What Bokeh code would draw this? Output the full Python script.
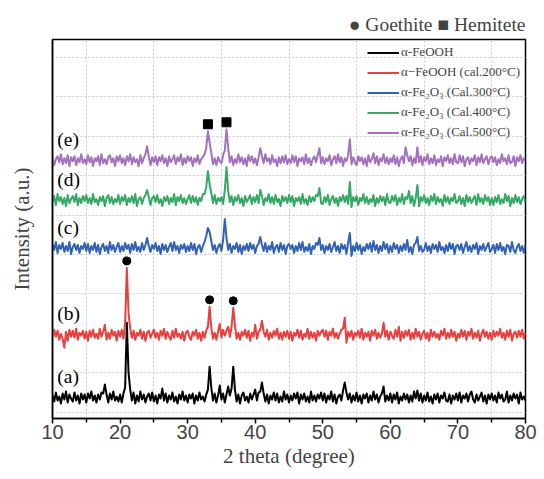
from bokeh.plotting import figure
from bokeh.models import Range1d, FixedTicker
from bokeh.embed import file_html
from bokeh.resources import INLINE
from bokeh.core.properties import value

# 2-theta sampling (degrees)
two_theta = [10 + 0.25 * i for i in range(281)]

# intensities (a.u., relative to each trace's own baseline)
int_a = [
    2,-4,5,-3,1,-6,4,-2,6,-5,3,-1,-4,5,-3,2,-6,4,-2,3,
    -5,4,-1,6,-3,2,-5,3,-2,5,4,13,3,-5,4,-2,6,-3,1,-4,
    3,-5,4,10,75,25,8,-3,5,-6,2,-4,6,-2,3,-5,1,4,-3,5,
    -4,2,-6,3,-1,9,-3,4,-5,2,-2,5,-4,1,-6,3,-2,6,-3,2,
    -5,3,-1,4,-6,2,-3,5,-2,1,-4,3,8,31,10,-3,4,-5,2,12,
    -2,4,-5,3,11,2,9,31,8,-4,3,-6,2,5,-3,1,-5,4,-2,3,
    8,-3,5,6,15,4,-4,3,-6,2,-2,5,-3,4,-5,1,-4,6,-2,3,
    -5,2,-3,4,-1,5,-6,3,-2,4,-4,1,-5,6,-3,2,-4,3,-1,5,
    -3,4,-5,2,-2,6,-4,3,-6,1,3,-3,7,15,5,-2,4,-5,2,-3,
    5,-4,2,-6,3,-1,4,-5,2,-3,6,-2,3,-5,1,4,11,-4,2,-3,
    4,-5,3,-2,5,-6,1,-3,4,-2,3,-5,2,-4,6,-1,7,-3,4,-5,
    2,-3,5,-4,1,-6,3,-2,4,-5,2,-1,5,-3,-4,3,-6,2,-2,4,
    -3,5,-5,2,-1,4,-4,3,6,-2,-5,3,-3,1,5,-4,2,-6,3,-2,
    4,-3,2,-5,5,-1,3,-4,-2,6,-5,2,-3,4,-1,3,-6,5,-2,1,
    -3]
int_b = [
    -3,5,-2,4,-5,1,-4,-13,3,-6,5,-2,4,-3,6,-5,2,-1,4,-4,
    3,-6,4,-2,5,-3,1,-4,6,-2,3,10,-5,2,-4,5,-1,3,-6,4,
    -2,5,-4,12,67,22,6,-3,4,-5,2,-1,5,-4,3,-6,2,4,-3,1,
    5,-3,2,-5,4,-1,6,-4,3,-2,-5,4,-3,6,-2,1,-4,3,-6,2,
    4,-2,-5,3,-1,5,-4,2,-6,3,-3,4,8,28,7,-4,2,-5,3,11,
    -3,5,-1,4,8,-2,8,27,9,-4,2,-5,3,-1,5,-3,4,-6,2,-2,
    10,-4,3,5,14,3,-2,5,-5,2,-3,4,-1,6,-4,2,-5,3,-2,4,
    -4,3,-6,2,-1,5,-3,4,-5,1,-2,6,-4,3,-3,2,-6,4,-1,3,
    5,-2,4,-5,3,-1,6,-3,2,-4,1,5,6,17,-8,3,-2,4,-5,2,
    -1,4,-3,6,-5,2,-2,3,-6,4,-1,5,-4,2,-3,1,12,-2,4,-5,
    3,-1,-4,5,-2,8,-6,3,-3,4,-1,5,-5,2,-4,6,-2,3,-5,1,
    4,-4,2,-6,5,-2,3,-3,1,-5,4,-1,6,-4,2,-3,5,-2,3,-6,
    1,-3,5,-2,4,-5,3,-1,6,-4,2,-3,4,-6,1,5,-2,3,-4,2,
    -5,4,-2,3,-1,6,-3,2,-5,4,-2,5,-6,1,3,-3,4,-2,5,-4,
    2]
int_c = [
    4,-2,6,-5,3,-1,5,-4,2,-3,6,-6,1,4,-2,3,-5,2,-1,5,
    -3,4,-5,2,-2,5,-4,3,-6,1,4,-3,2,-5,6,-2,3,-4,1,5,
    -4,2,-3,5,-1,3,-5,4,-2,6,-3,1,-4,5,-2,3,10,2,-4,3,
    -1,5,-3,2,-6,4,-2,3,-4,1,5,-3,6,-2,2,-5,3,-1,4,-4,
    2,-3,5,-2,4,-6,1,3,-4,2,6,12,20,16,7,-2,3,-5,1,4,
    -3,8,29,10,-2,4,-5,2,-1,5,-4,3,-6,2,-2,4,-3,5,-1,3,
    -5,2,4,11,3,-3,5,-4,2,-2,6,-5,1,3,-4,5,-2,3,-6,2,
    4,-1,3,-5,2,-3,5,-2,6,-4,1,-3,4,-6,2,-1,5,3,10,-2,
    3,-5,2,-2,4,-4,1,6,-3,2,-5,4,-1,3,-6,5,15,-8,2,-3,
    5,-2,3,-6,1,-3,4,-1,5,-4,7,-2,3,-5,2,-3,6,-1,4,-5,
    2,-4,5,-1,3,-5,2,-3,4,-2,8,-4,1,-6,3,5,11,-3,2,-4,
    -2,5,-3,2,-5,4,-1,3,-4,6,-2,1,-5,3,-3,5,-1,4,-6,2,
    3,-2,4,-5,1,6,-3,2,-4,3,-1,5,-6,2,-2,4,-3,1,5,-4,
    -1,3,-5,4,-2,5,-3,1,-6,3,2,-4,6,-2,-5,1,4,-3,2,-5,
    3]
int_d = [
    -2,4,-5,6,-1,3,-4,2,-6,5,-3,1,4,-2,6,-5,2,-3,4,-1,
    5,-3,2,-4,6,-2,1,-5,3,-1,4,-6,2,5,-3,3,-4,1,-2,5,
    -4,3,-1,5,-5,2,-2,4,-3,6,-6,1,3,-4,2,5,10,3,-5,2,
    4,-2,5,-3,1,-6,3,-1,4,-4,2,-2,6,-5,3,-1,5,-3,2,-4,
    1,5,-3,4,-2,3,-5,2,-1,6,6,13,29,16,7,-3,5,-4,2,-1,
    3,-4,10,33,9,-2,4,-5,3,-1,5,-3,2,-6,4,-2,1,5,-4,3,
    -2,5,-3,10,4,-5,2,-1,6,-3,3,-4,5,-2,1,-6,4,-1,3,-3,
    5,-2,4,-6,2,-1,3,-4,6,-3,1,-5,4,-2,3,-1,5,4,12,-3,
    -4,3,-2,5,-5,1,4,-3,2,-6,3,-1,5,-2,4,-4,18,-7,3,-1,
    4,-5,2,-1,6,-3,3,-4,1,-2,5,-6,2,-3,4,-1,3,-5,6,-2,
    -3,4,-1,5,-5,2,-2,6,-4,3,1,9,-3,4,-6,2,15,-6,3,-1,
    5,-3,2,-5,4,-1,6,-4,3,-2,1,-6,5,-2,3,-4,2,-1,6,-3,
    -1,4,-4,2,-6,5,-2,3,-3,1,4,-5,6,-2,2,-4,5,-1,3,-5,
    2,-5,3,-2,5,-4,1,-3,6,-1,4,-6,2,-3,5,-2,3,-4,1,4,
    -2]
int_e = [
    3,-5,1,4,-2,6,-4,2,-3,5,-6,3,-1,4,-5,2,-2,6,-3,1,
    -4,5,-2,3,-6,2,-1,4,-5,6,-3,1,-4,3,5,-2,2,-6,4,-1,
    5,-3,2,-5,4,-1,6,-4,3,-2,1,-6,5,-3,2,6,14,4,-5,3,
    -2,4,-5,3,-1,5,-3,2,-6,4,-2,1,5,-4,3,-1,6,-5,2,-3,
    4,-1,3,-6,2,-2,5,-4,1,3,6,12,29,18,7,-4,2,-5,3,-1,
    -3,5,10,31,12,-2,4,-5,1,-3,6,-2,3,-4,2,-6,5,-1,4,-3,
    2,-5,3,12,4,-3,6,-1,2,-4,5,-2,1,-6,3,-3,4,-2,5,-4,
    1,-3,5,-2,4,-6,2,-1,3,-4,6,-3,2,-5,1,4,-2,5,12,-3,
    3,-4,2,-1,5,-5,1,4,-3,6,-2,3,-6,2,-1,5,21,-4,3,-2,
    -5,4,-1,3,-4,2,-6,5,-2,1,7,-3,4,-5,2,-1,6,-3,3,-4,
    2,-2,5,-4,3,-6,1,4,-3,13,5,-1,4,-5,2,-3,13,-2,4,-5,
    3,-1,6,-4,2,-3,5,-5,1,-2,4,-6,3,-1,5,-3,2,-4,6,-2,
    -3,5,-2,4,-6,1,3,-4,2,-1,5,-5,3,-2,6,-3,1,4,-4,2,
    4,-2,3,-5,1,-3,6,-1,2,-4,5,-3,-2,4,-6,3,-1,5,-3,2,
    1]

series_names = ["α-FeOOH", "α−FeOOH (cal.200°C)", "α-Fe₂O₃ (Cal.300°C)",
                "α-Fe₂O₃ (Cal.400°C)", "α-Fe₂O₃ (Cal.500°C)"]
series_tags = ["(a)", "(b)", "(c)", "(d)", "(e)"]
series_values = [int_a, int_b, int_c, int_d, int_e]
stack_offsets = [21, 84, 171, 219, 259]
colors = ["#000000", "#E8403F", "#3262B4", "#34A864", "#A371BE"]

goethite_peaks = [21.0, 33.25, 36.75]   # marked on trace (b)
hematite_peaks = [33.0, 35.75]          # marked on trace (e)

x_ticks = [10, 20, 30, 40, 50, 60, 70, 80]
x_minor = [15, 25, 35, 45, 55, 65, 75]

p = figure(width=540, height=470, output_backend="svg", toolbar_location=None,
           x_range=Range1d(10, 80), y_range=Range1d(0, 380),
           min_border_left=52, min_border_right=15, min_border_top=39, min_border_bottom=10)

for vals, off, col, name in zip(series_values, stack_offsets, colors, series_names):
    p.line(two_theta, [v + off for v in vals], line_color=col, line_width=2,
           line_join="round", legend_label=name)

def peak_top(vals, off, pos):
    i = int(round((pos - 10) / 0.25))
    return off + max(vals[i - 1:i + 2])

gap = 7
p.scatter(goethite_peaks, [peak_top(int_b, stack_offsets[1], x) + gap for x in goethite_peaks],
          marker="circle", size=8, fill_color="black", line_color="black")
p.scatter(hematite_peaks, [peak_top(int_e, stack_offsets[4], x) + gap for x in hematite_peaks],
          marker="square", size=9, fill_color="black", line_color="black")

p.text([10.7] * 5, [o + 21 for o in stack_offsets], text=series_tags,
       text_font=value("Liberation Serif"), text_font_size="19.5px",
       text_baseline="middle", text_align="left", text_color="black")

# title
p.title.text = "● Goethite ■ Hemitete"
p.title.align = "right"
p.title.text_font = "Liberation Serif"
p.title.text_font_size = "19.5px"
p.title.text_font_style = "normal"
p.title.standoff = 10

# axes
p.xaxis.ticker = FixedTicker(ticks=x_ticks, minor_ticks=x_minor)
p.xaxis.axis_label = "2 theta (degree)"
p.xaxis.axis_label_text_font = "Liberation Serif"
p.xaxis.axis_label_text_font_size = "21px"
p.xaxis.axis_label_text_font_style = "normal"
p.xaxis.axis_label_standoff = 2
p.xaxis.major_label_text_font = "Liberation Sans"
p.xaxis.major_label_text_font_size = "20px"
p.xaxis.major_label_standoff = 1
p.xaxis.major_tick_out = 5
p.xaxis.major_tick_in = 0
p.xaxis.minor_tick_out = 4
p.xaxis.minor_tick_in = 0
p.xaxis.axis_line_width = 1.5
p.xaxis.major_tick_line_width = 1.5
p.xaxis.minor_tick_line_width = 1.5

p.yaxis.ticker = FixedTicker(ticks=[])
p.yaxis.axis_label = "Intensity (a.u.)"
p.yaxis.axis_label_text_font = "Liberation Serif"
p.yaxis.axis_label_text_font_size = "21px"
p.yaxis.axis_label_text_font_style = "normal"
p.yaxis.axis_label_standoff = 19
p.yaxis.major_tick_line_color = None
p.yaxis.minor_tick_line_color = None
p.yaxis.axis_line_width = 1.5

p.outline_line_color = "black"
p.outline_line_width = 1.5

p.xgrid.ticker = FixedTicker(ticks=x_minor)
p.ygrid.ticker = FixedTicker(ticks=[6.5 + 39.5 * k for k in range(10)])
for g in (p.xgrid, p.ygrid):
    g.grid_line_color = "#c8c8c8"
    g.grid_line_dash = "2 2"
    g.grid_line_width = 1

lg = p.legend[0]
lg.location = "top_right"
lg.margin = 0
lg.padding = 5
lg.spacing = 4
lg.label_height = 13
lg.glyph_height = 13
lg.glyph_width = 32
lg.label_standoff = 2
lg.label_text_font = "Liberation Serif"
lg.label_text_font_size = "13px"
lg.background_fill_alpha = 0
lg.border_line_alpha = 0

open("out.html", "w").write(file_html(p, INLINE))
